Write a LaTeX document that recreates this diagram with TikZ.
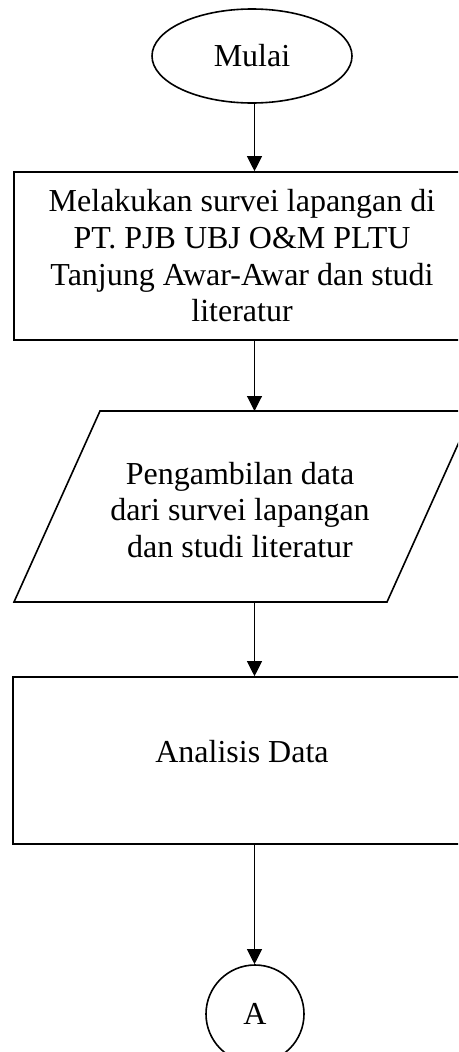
\documentclass[tikz,border=0pt]{standalone}
\usepackage{fontspec}
\setmainfont{Liberation Serif}
\usetikzlibrary{arrows.meta,shapes.geometric}
\begin{document}
\begin{tikzpicture}[x=1pt,y=-1pt,
  shapeline/.style={draw=black, line width=1.6pt},
  flowtext/.style={font=\fontsize{32}{36.7}\selectfont, align=center, inner sep=0pt},
  flowarrow/.style={draw=black, line width=1.1pt, -{Triangle[width=15pt,length=15pt]}}]
\useasboundingbox (0,0) rectangle (458,1052);
\clip (0,0) rectangle (458,1052);

% vertical axis shared by all connectors
\coordinate (ax) at (254.5,0);

% start terminal
\node[shapeline, flowtext, ellipse, minimum width=200pt, minimum height=94pt] (mulai) at (252,56) {Mulai};

% survey step
\node[shapeline, flowtext, rectangle, minimum width=456pt, minimum height=168pt] (survei) at (242,256)
  {Melakukan survei lapangan di\\PT. PJB UBJ O\&M PLTU\\Tanjung Awar-Awar dan studi\\literatur};

% data input (parallelogram)
\draw[shapeline, line join=miter] (100,411) -- (473,411) -- (387,602) -- (14,602) -- cycle;
\coordinate (ptop) at (254.5,411);
\coordinate (pbot) at (254.5,602);
\node[flowtext] (pdata) at (240,510) {Pengambilan data\\dari survei lapangan\\dan studi literatur};

% analysis step
\node[shapeline, flowtext, rectangle, minimum width=458pt, minimum height=167pt, text depth=18pt] (analisis) at (242,760.5) {Analisis Data};

% off-page connector
\node[shapeline, flowtext, circle, minimum size=98pt] (conA) at (255,1014) {A};

% connectors
\draw[flowarrow] (mulai.south -| ax) -- (survei.north -| ax);
\draw[flowarrow] (survei.south -| ax) -- (ptop);
\draw[flowarrow] (pbot) -- (analisis.north -| ax);
\draw[flowarrow] (analisis.south -| ax) -- (conA.north -| ax);
\end{tikzpicture}
\end{document}
